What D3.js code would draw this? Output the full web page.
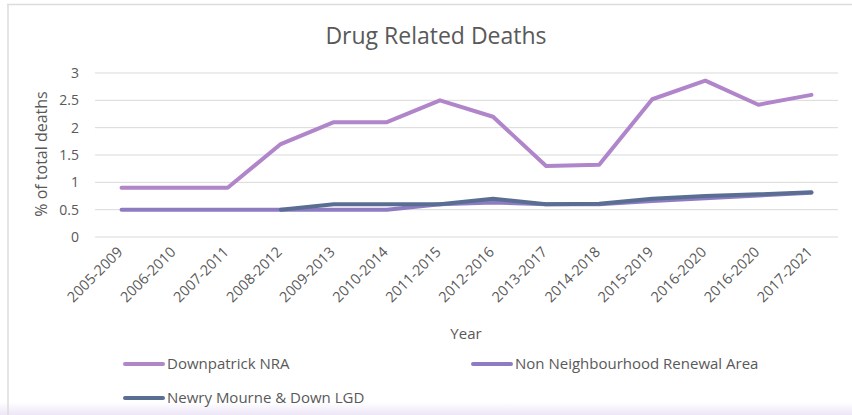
<!DOCTYPE html>
<html><head><meta charset="utf-8">
<script src="https://cdn.jsdelivr.net/npm/d3@7"></script>
<style>body{margin:0;background:#fff;}svg{display:block;}</style>
</head><body>
<svg id="c" width="852" height="415"></svg>
<script>
const categories = ["2005-2009","2006-2010","2007-2011","2008-2012","2009-2013","2010-2014","2011-2015","2012-2016","2013-2017","2014-2018","2015-2019","2016-2020","2016-2020 ","2017-2021"];
const downpatrick = [0.9,0.9,0.9,1.7,2.1,2.1,2.5,2.2,1.3,1.32,2.52,2.86,2.42,2.6];
const nonNRA = [0.5,0.5,0.5,0.5,0.5,0.5,0.6,0.63,0.6,0.6,0.66,0.71,0.76,0.81];
const lgd = [null,null,null,0.5,0.6,0.6,0.6,0.7,0.6,0.61,0.7,0.75,0.78,0.82];
const yTicks = [0,0.5,1,1.5,2,2.5,3];
const seriesNames = ["Downpatrick NRA","Non Neighbourhood Renewal Area","Newry Mourne & Down LGD"];
const colors = ["#B085C9","#8E7CC3","#5A6E94"];

const svg = d3.select("#c");
const font = "'Open Sans', sans-serif";
const txt = "#595959";

// frame
const defs = svg.append("defs");
const g1 = defs.append("linearGradient").attr("id","sh").attr("x1",0).attr("x2",0).attr("y1",0).attr("y2",1);
g1.append("stop").attr("offset","0%").attr("stop-color","#ffffff");
g1.append("stop").attr("offset","100%").attr("stop-color","#ede6f7");
svg.append("rect").attr("x",0).attr("y",402).attr("width",852).attr("height",13).attr("fill","url(#sh)");
svg.append("line").attr("x1",7).attr("x2",852).attr("y1",4.5).attr("y2",4.5).attr("stroke","#dcdcdc").attr("stroke-width",1.5);
svg.append("line").attr("x1",8).attr("x2",8).attr("y1",4).attr("y2",415).attr("stroke","#dcdcdc").attr("stroke-width",1.5);

const x = d3.scaleBand().domain(categories).range([95,838]);
const y = d3.scaleLinear().domain([0,3]).range([237,73]);
const cx = d => x(d) + x.bandwidth()/2;

// gridlines
svg.append("g").selectAll("line").data(yTicks).join("line")
  .attr("x1",95).attr("x2",838).attr("y1",d=>y(d)).attr("y2",d=>y(d))
  .attr("stroke","#d9d9d9").attr("stroke-width",1);

// y labels
svg.append("g").selectAll("text").data(yTicks).join("text")
  .attr("x",79).attr("y",d=>y(d)).attr("dy","0.36em").attr("text-anchor","end")
  .attr("font-family",font).attr("font-size",14).attr("fill",txt).text(d=>d);

// x labels
svg.append("g").selectAll("text").data(categories).join("text")
  .attr("transform",d=>`translate(${cx(d)+2},${y(0)+16}) rotate(-45)`)
  .attr("text-anchor","end").attr("font-family",font).attr("font-size",14.5).attr("fill",txt)
  .text(d=>d.trim());

// axis titles
svg.append("text").attr("x",436).attr("y",44).attr("text-anchor","middle")
  .attr("font-family",font).attr("font-size",23).attr("fill",txt).text("Drug Related Deaths");
svg.append("text").attr("transform","translate(47,154) rotate(-90)").attr("text-anchor","middle")
  .attr("font-family",font).attr("font-size",16).attr("fill",txt).text("% of total deaths");
svg.append("text").attr("x",466).attr("y",339).attr("text-anchor","middle")
  .attr("font-family",font).attr("font-size",15).attr("fill",txt).text("Year");

// lines
const data = [downpatrick,nonNRA,lgd];
const line = d3.line().defined(d=>d[1]!=null).x(d=>cx(d[0])).y(d=>y(d[1]));
[1,2,0].forEach(i=>{
  svg.append("path").datum(categories.map((c,j)=>[c,data[i][j]]))
    .attr("d",line).attr("fill","none").attr("stroke",colors[i])
    .attr("stroke-width",4).attr("stroke-linejoin","round").attr("stroke-linecap","round");
});

// legend
const leg = [{x:125,y:364},{x:473,y:364},{x:125,y:398}];
leg.forEach((p,i)=>{
  svg.append("line").attr("x1",p.x).attr("x2",p.x+38).attr("y1",p.y).attr("y2",p.y)
    .attr("stroke",colors[i]).attr("stroke-width",4).attr("stroke-linecap","round");
  svg.append("text").attr("x",p.x+42).attr("y",p.y).attr("dy","0.36em")
    .attr("font-family",font).attr("font-size",15).attr("fill",txt).text(seriesNames[i]);
});
</script>
</body></html>
